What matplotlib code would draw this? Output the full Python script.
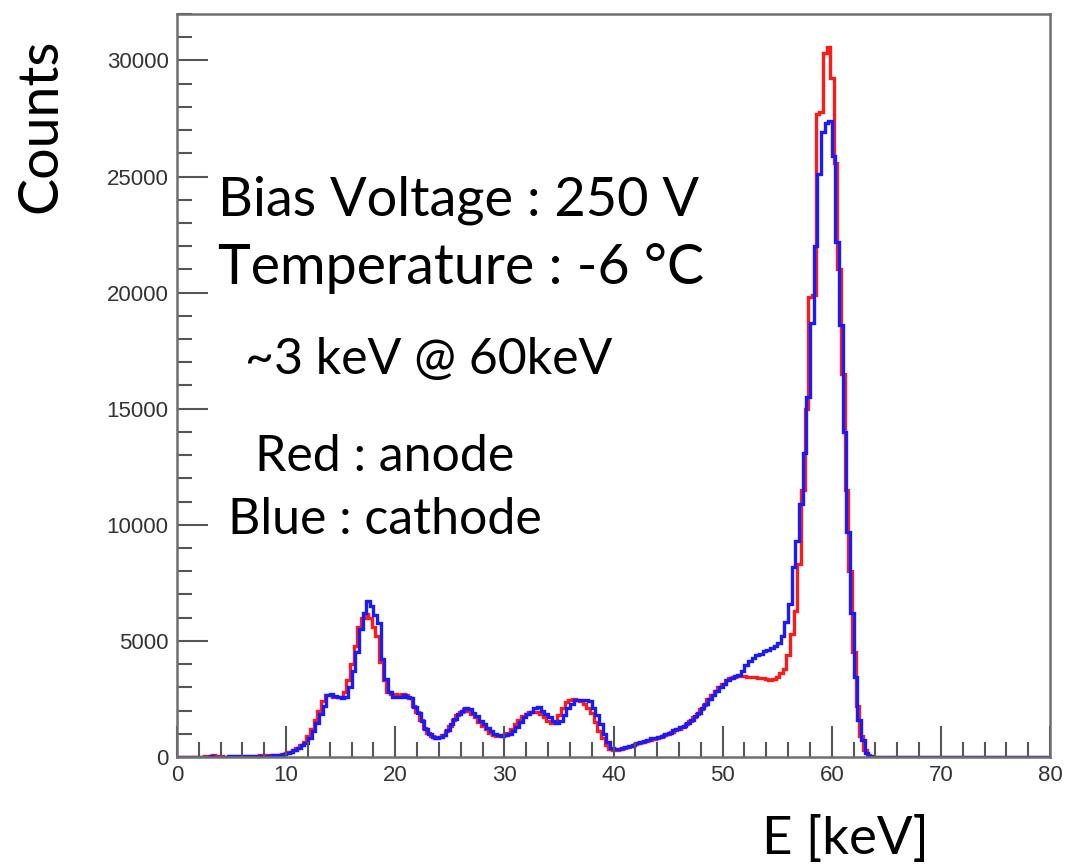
import numpy as np
import matplotlib.pyplot as plt
from matplotlib.ticker import MultipleLocator

# histogram binning: 1/3 keV bins, 0-80 keV
bin_width = 1.0 / 3.0
n_bins = 240
red_shift = -0.15  # anode calibration offset (keV)

# counts per bin, three bins per keV, starting at 0 keV
cathode_counts = [
    0, 0, 0,   0, 0, 0,   0, 0, 10,   20, 10, 10,   10, 10, 20,
    20, 20, 20,   30, 30, 30,   40, 40, 50,   50, 60, 70,   80, 100, 120,
    160, 210, 280,   380, 500, 620,   820, 1100, 1450,   1850, 2200, 2650,
    2700, 2620, 2580,   2560, 2600, 3000,   3700, 4500, 5500,   6200, 6700, 6500,
    6100, 5750, 4200,   3350, 2800, 2600,   2580, 2600, 2650,   2600, 2550, 2150,
    1900, 1550, 1200,   1000, 880, 820,   850, 950, 1150,   1400, 1650, 1850,
    2000, 2100, 2050,   1900, 1750, 1550,   1400, 1250, 1100,   1000, 950, 920,
    930, 1000, 1100,   1300, 1500, 1700,   1850, 1950, 2100,   2150, 2000, 1850,
    1700, 1550, 1480,   1550, 1800, 2100,   2300, 2450, 2450,   2450, 2450, 2400,
    2100, 1800, 1400,   1000, 650, 380,   330, 350, 380,   420, 470, 520,
    580, 640, 700,   750, 800, 830,   870, 920, 1000,   1050, 1150, 1200,
    1280, 1350, 1450,   1600, 1750, 1900,   2100, 2300, 2500,   2650, 2850, 3000,
    3150, 3300, 3400,   3500, 3550, 3700,   3950, 4150, 4250,   4400, 4450, 4550,
    4600, 4700, 4800,   4900, 5200, 5800,   6600, 8200, 9300,   10900, 13100, 15500,
    18700, 22000, 25100,   26900, 27300, 27400,   25900, 22200, 18600,
    14000, 9700, 6200,   3440, 1590, 730,   170, 40, 0,
]

anode_counts = [
    0, 0, 0,   0, 0, 0,   0, 10, 20,   60, 80, 40,   20, 10, 10,
    20, 20, 20,   30, 30, 40,   50, 60, 80,   90, 80, 70,   80, 100, 130,
    170, 230, 300,   400, 520, 650,   900, 1200, 1600,   2000, 2400, 2650,
    2650, 2600, 2600,   2600, 2800, 3300,   4000, 4800, 5600,   6000, 6150, 6000,
    5600, 5200, 4100,   3300, 2800, 2700,   2700, 2650, 2700,   2650, 2550, 2200,
    1950, 1600, 1250,   1050, 900, 830,   850, 950, 1100,   1350, 1600, 1800,
    1950, 2050, 2000,   1850, 1700, 1500,   1350, 1200, 1050,   950, 900, 900,
    950, 1050, 1200,   1400, 1600, 1750,   1850, 1950, 1950,   1950, 1850, 1700,
    1550, 1450, 1500,   1800, 2100, 2350,   2450, 2500, 2450,   2400, 2300, 2100,
    1900, 1500, 1100,   800, 500, 350,   300, 320, 350,   380, 430, 480,
    550, 600, 650,   700, 750, 780,   820, 880, 950,   1000, 1080, 1150,
    1220, 1300, 1400,   1550, 1700, 1850,   2050, 2250, 2500,   2650, 2850, 3000,
    3150, 3300, 3400,   3450, 3500, 3500,   3480, 3450, 3450,   3450, 3420, 3400,
    3350, 3300, 3350,   3450, 3600, 3800,   4400, 5300, 6300,   8300, 11500, 15000,
    19800, 19900, 27700,   27800, 30300, 30560,   29230, 25600, 21000,
    16500, 11500, 8000,   4500, 2200, 900,   300, 80, 0,
]

x_ticks = [0, 10, 20, 30, 40, 50, 60, 70, 80]
y_ticks = [0, 5000, 10000, 15000, 20000, 25000, 30000]

edges = np.arange(n_bins + 1) * bin_width
blue = np.zeros(n_bins)
blue[:len(cathode_counts)] = cathode_counts
red = np.zeros(n_bins)
red[:len(anode_counts)] = anode_counts

fig = plt.figure(figsize=(10.67, 8.65), dpi=100)
ax = fig.add_axes([0.1659, 0.1249, 0.8182, 0.8589])

ax.stairs(red, edges + red_shift, color='#ff1a1a', linewidth=2.4, baseline=None)
ax.stairs(blue, edges, color='#1a1aff', linewidth=2.4, baseline=None)

ax.set_xlim(0, 80)
ax.set_ylim(0, 32000)
ax.set_xticks(x_ticks)
ax.set_yticks(y_ticks)
ax.xaxis.set_minor_locator(MultipleLocator(2))
ax.yaxis.set_minor_locator(MultipleLocator(1000))
ax.tick_params(which='both', direction='in', colors='#555555', width=1.5,
               labelcolor='#333333', labelsize=16, top=False, right=False)
ax.tick_params(which='major', length=22, pad=6)
ax.tick_params(which='minor', length=11)
for lbl in ax.get_xticklabels() + ax.get_yticklabels():
    lbl.set_family('Liberation Sans')
for sp in ax.spines.values():
    sp.set_color('#6e6e6e')
    sp.set_linewidth(1.8)

font = 'Lato'
fig.text(0.038, 0.855, 'Counts', rotation=90, fontsize=40, family=font,
         ha='center', va='center')
fig.text(0.792, 0.030, 'E [keV]', fontsize=38, family=font, ha='center', va='center')

ax.text(0.047, 0.750, 'Bias Voltage : 250 V', transform=ax.transAxes,
        fontsize=39, family=font, va='center')
ax.text(0.047, 0.658, 'Temperature : -6 °C', transform=ax.transAxes,
        fontsize=40, family=font, va='center')
ax.text(0.078, 0.534, '~3 keV @ 60keV', transform=ax.transAxes,
        fontsize=36, family=font, va='center')
ax.text(0.089, 0.404, 'Red : anode', transform=ax.transAxes,
        fontsize=36, family=font, va='center')
ax.text(0.058, 0.319, 'Blue : cathode', transform=ax.transAxes,
        fontsize=36, family=font, va='center')

fig.savefig('out.png', dpi=100)
